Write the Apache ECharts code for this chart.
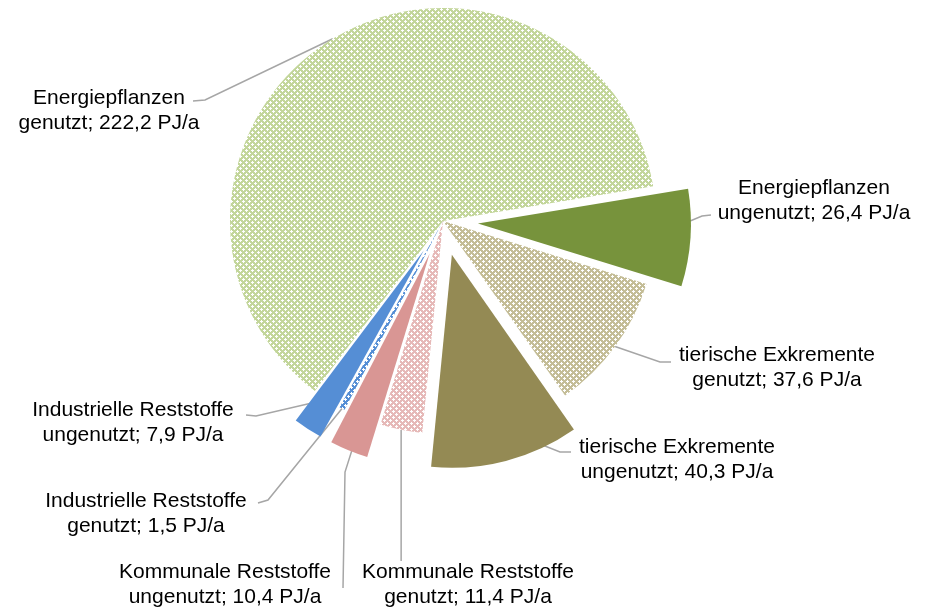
<!DOCTYPE html>
<html>
<head>
<meta charset="utf-8">
<script src="https://cdn.jsdelivr.net/npm/echarts@6/dist/echarts.min.js"></script>
<style>
html, body { margin: 0; background: #fff; }
#chart { width: 925px; height: 613px; }
</style>
</head>
<body>
<div id="chart"></div>
<script>
const sources = ['Energiepflanzen', 'Energiepflanzen', 'tierische Exkremente', 'tierische Exkremente',
  'Kommunale Reststoffe', 'Kommunale Reststoffe', 'Industrielle Reststoffe', 'Industrielle Reststoffe']
const usage = ['genutzt', 'ungenutzt', 'genutzt', 'ungenutzt', 'genutzt', 'ungenutzt', 'genutzt', 'ungenutzt']
const values = [222.2, 26.4, 37.6, 40.3, 11.4, 10.4, 1.5, 7.9]

const colors = ['#c3d69b', '#77933c', '#c4bd97', '#948a54', '#e6b9b8', '#d99694', '#558ed5', '#558ed5']

// where each label goes: centre of the text, then bend and end of the leader line
// (down = leader runs straight down to that y)
const labelSpots = [
  { x: 109, y: 111, bend: [205, 100], end: [193, 101] },
  { x: 814, y: 201, bend: [702, 216], end: [711, 215] },
  { x: 777, y: 368, bend: [660, 362], end: [671, 362] },
  { x: 677, y: 460, bend: [560, 452], end: [571, 452] },
  { x: 468, y: 585, down: 561 },
  { x: 225, y: 585, bend: [345, 472], end: [343, 588] },
  { x: 146, y: 514, bend: [268, 500], end: [258, 503] },
  { x: 133, y: 423, bend: [256, 416], end: [246, 415] }
]

function hatch(fg) {
  let c = document.createElement('canvas')
  c.width = 6
  c.height = 6
  let g = c.getContext('2d')
  g.fillStyle = fg
  g.fillRect(0, 0, 6, 6)
  g.fillStyle = '#ffffff'
  let pts = [[0, 0], [1, 0], [5, 0], [0, 1], [0, 5], [3, 3], [2, 3], [4, 3], [3, 2], [3, 4]]
  pts.forEach(p => g.fillRect(p[0], p[1], 1, 1))
  return { image: c, repeat: 'repeat' }
}

let myChart = echarts.init(document.getElementById('chart'))

let dataPie = values.map((v, i) => {
  let ungenutzt = usage[i] === 'ungenutzt'
  let color = ungenutzt ? colors[i] : hatch(colors[i])
  return {
    value: v,
    name: sources[i] + ' ' + usage[i],
    selected: ungenutzt,
    itemStyle: { color: color },
    select: { itemStyle: { color: color } }
  }
})

// same slices, invisible, only to carry the labels (not pulled out)
let dataLabels = values.map((v, i) => ({
  value: v,
  name: sources[i] + ' ' + usage[i]
}))

let pieBase = {
  type: 'pie',
  center: [443, 221],
  radius: 213,
  startAngle: 233,
  clockwise: true,
  avoidLabelOverlap: false,
  emphasis: { disabled: true }
}

let option = {
  animation: false,
  series: [
    Object.assign({}, pieBase, {
      name: 'labels',
      z: 1,
      silent: true,
      data: dataLabels,
      itemStyle: { color: 'rgba(0,0,0,0)', borderWidth: 0 },
      label: {
        show: true,
        position: 'outside',
        color: '#000',
        fontFamily: 'Liberation Sans, Arial, sans-serif',
        fontSize: 21,
        lineHeight: 25,
        align: 'center',
        formatter: p => sources[p.dataIndex] + '\n' + usage[p.dataIndex] + '; ' +
          String(p.value).replace('.', ',') + ' PJ/a'
      },
      labelLine: {
        show: true,
        length: 10,
        length2: 10,
        lineStyle: { color: '#a6a6a6', width: 1.5 }
      },
      labelLayout: function (p) {
        let s = labelSpots[p.dataIndex]
        let start = p.labelLinePoints[0]
        let pts = s.down
          ? [start, [start[0], s.down - 1], [start[0], s.down]]
          : [start, s.bend, s.end]
        return {
          x: s.x,
          y: s.y,
          align: 'center',
          verticalAlign: 'middle',
          labelLinePoints: pts
        }
      }
    }),
    Object.assign({}, pieBase, {
      name: 'Biomasse',
      z: 2,
      selectedMode: 'multiple',
      selectedOffset: 35,
      label: { show: false },
      labelLine: { show: false },
      data: dataPie
    })
  ]
}

myChart.setOption(option)
</script>
</body>
</html>
